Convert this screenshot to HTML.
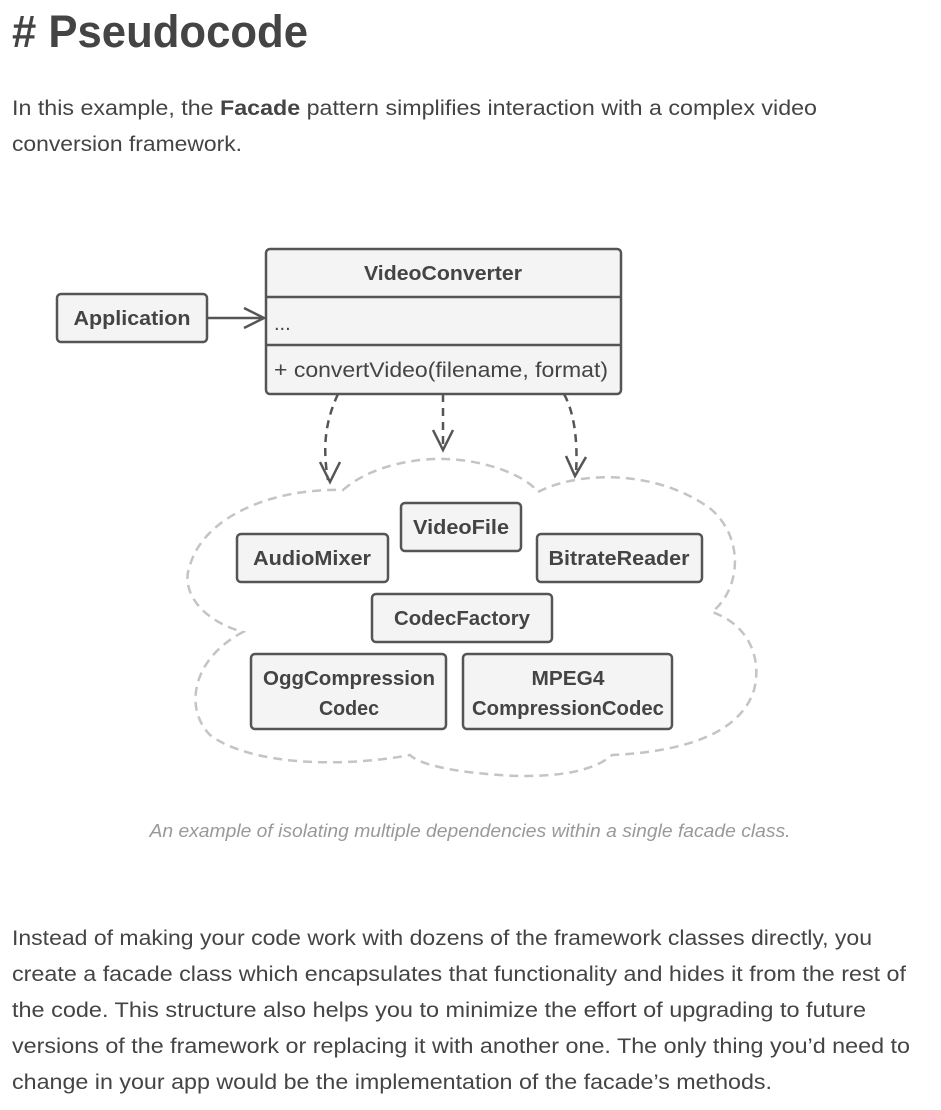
<!DOCTYPE html>
<html><head><meta charset="utf-8"><style>
html,body{margin:0;padding:0;background:#fff;}
svg{display:block;}
.t{font-family:"Liberation Sans",sans-serif;fill:#444;}
.b{font-family:"Liberation Sans",sans-serif;font-weight:bold;fill:#444;font-size:20px;}
.box{fill:#f4f4f4;stroke:#555;stroke-width:2.5;}
</style></head><body>
<svg width="941" height="1110" viewBox="0 0 941 1110" xmlns="http://www.w3.org/2000/svg">
<text class="t" x="12" y="47" font-size="45" font-weight="bold" textLength="296" lengthAdjust="spacingAndGlyphs">#&#160;Pseudocode</text>
<text class="t" x="12" y="115" font-size="21" textLength="805" lengthAdjust="spacingAndGlyphs">In this example, the <tspan font-weight="bold">Facade</tspan> pattern simplifies interaction with a complex video</text>
<text class="t" x="12" y="151" font-size="21" textLength="230" lengthAdjust="spacingAndGlyphs">conversion framework.</text>

<!-- cloud -->
<path d="M343,490 C370,466 415,458 445,459 C485,460 525,475 538,492 C580,470 660,470 712,510 C745,540 740,590 712,612 C750,625 762,660 754,690 C740,735 680,752 612,755 C590,775 540,778 500,775 C455,772 420,765 410,755 C340,768 250,765 210,735 C185,710 190,660 243,632 C200,620 180,590 190,565 C205,515 275,488 343,490 Z" fill="none" stroke="#c4c4c4" stroke-width="2.5" stroke-dasharray="9,6"/>

<!-- dashed arrows -->
<g fill="none" stroke="#555" stroke-width="2.5">
<path d="M338,394 C326,420 322,445 328,480" stroke-dasharray="8,6"/>
<path d="M320,462 L330,482 L340,462"/>
<path d="M443,394 L443,446" stroke-dasharray="8,6"/>
<path d="M433,430 L443,450 L453,430"/>
<path d="M564,394 C574,412 578,440 576,473" stroke-dasharray="8,6"/>
<path d="M566,456 L575,476 L586,457"/>
<path d="M208,318 L262,318"/>
<path d="M244,308 L264,318 L244,328"/>
</g>

<!-- VideoConverter -->
<rect class="box" x="266" y="249" width="355" height="145" rx="4"/>
<line x1="266" y1="297" x2="621" y2="297" stroke="#555" stroke-width="2.5"/>
<line x1="266" y1="345" x2="621" y2="345" stroke="#555" stroke-width="2.5"/>
<text class="b" x="443" y="280" text-anchor="middle" textLength="158" lengthAdjust="spacingAndGlyphs">VideoConverter</text>
<text class="t" x="274" y="330" font-size="20">...</text>
<text class="t" x="274" y="377" font-size="21" textLength="334" lengthAdjust="spacingAndGlyphs">+ convertVideo(filename, format)</text>

<rect class="box" x="57" y="294" width="150" height="48" rx="4"/>
<text class="b" x="132" y="325" text-anchor="middle" textLength="117" lengthAdjust="spacingAndGlyphs">Application</text>

<rect class="box" x="401" y="503" width="120" height="48" rx="4"/>
<text class="b" x="461" y="534" text-anchor="middle" textLength="96" lengthAdjust="spacingAndGlyphs">VideoFile</text>
<rect class="box" x="237" y="534" width="151" height="48" rx="4"/>
<text class="b" x="312" y="565" text-anchor="middle" textLength="118" lengthAdjust="spacingAndGlyphs">AudioMixer</text>
<rect class="box" x="537" y="534" width="165" height="48" rx="4"/>
<text class="b" x="619" y="565" text-anchor="middle" textLength="141" lengthAdjust="spacingAndGlyphs">BitrateReader</text>
<rect class="box" x="372" y="594" width="180" height="48" rx="4"/>
<text class="b" x="462" y="625" text-anchor="middle" textLength="136" lengthAdjust="spacingAndGlyphs">CodecFactory</text>
<rect class="box" x="251" y="654" width="195" height="75" rx="4"/>
<text class="b" x="349" y="685" text-anchor="middle" textLength="172" lengthAdjust="spacingAndGlyphs">OggCompression</text>
<text class="b" x="349" y="715" text-anchor="middle" textLength="60" lengthAdjust="spacingAndGlyphs">Codec</text>
<rect class="box" x="463" y="654" width="209" height="75" rx="4"/>
<text class="b" x="568" y="685" text-anchor="middle" textLength="73" lengthAdjust="spacingAndGlyphs">MPEG4</text>
<text class="b" x="568" y="715" text-anchor="middle" textLength="192" lengthAdjust="spacingAndGlyphs">CompressionCodec</text>

<text x="470" y="837" text-anchor="middle" font-family="Liberation Sans, sans-serif" font-style="italic" font-size="18" fill="#999" textLength="641" lengthAdjust="spacingAndGlyphs">An example of isolating multiple dependencies within a single facade class.</text>

<text class="t" x="12" y="945" font-size="21" textLength="860" lengthAdjust="spacingAndGlyphs">Instead of making your code work with dozens of the framework classes directly, you</text>
<text class="t" x="12" y="981" font-size="21" textLength="894" lengthAdjust="spacingAndGlyphs">create a facade class which encapsulates that functionality and hides it from the rest of</text>
<text class="t" x="12" y="1017" font-size="21" textLength="854" lengthAdjust="spacingAndGlyphs">the code. This structure also helps you to minimize the effort of upgrading to future</text>
<text class="t" x="12" y="1053" font-size="21" textLength="898" lengthAdjust="spacingAndGlyphs">versions of the framework or replacing it with another one. The only thing you’d need to</text>
<text class="t" x="12" y="1089" font-size="21" textLength="760" lengthAdjust="spacingAndGlyphs">change in your app would be the implementation of the facade’s methods.</text>
</svg>
</body></html>
